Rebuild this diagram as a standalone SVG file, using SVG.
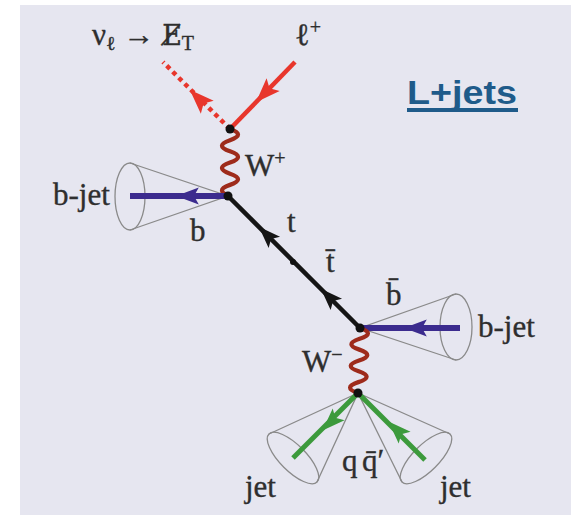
<svg xmlns="http://www.w3.org/2000/svg" xmlns:xlink="http://www.w3.org/1999/xlink" width="571" height="515" viewBox="0 0 571 515">
  <style>
    .lbl { font-family: "Liberation Serif", "DejaVu Serif", serif; font-size: 31px; fill: #2e2e2e; stroke: #2e2e2e; stroke-width: 0.35; }
    .sup { font-size: 20px; }
    .slash { font-family: "DejaVu Serif", "Liberation Serif", serif; font-size: 27px; }
    .cone { fill: none; stroke: #8a8a8a; stroke-width: 1.3; }
    .red { stroke: #e8362c; fill: none; stroke-width: 4.5; }
    .blue { stroke: #3b2b8e; fill: none; stroke-width: 6; }
    .green { stroke: #3c9a3c; fill: none; stroke-width: 5; }
    .top { stroke: #151515; fill: none; stroke-width: 4.5; }
    .boson { stroke: #9e2b1b; fill: none; stroke-width: 4.3; }
    .dot { fill: #111; }
    .title { font-family: "Liberation Sans", Arial, sans-serif; font-weight: bold; font-size: 34px; fill: #1f5b8a; }
  </style>
  <defs>
    <!-- stealth-style arrowhead pointing along +x -->
    <path id="ah" d="M10,0 L-9,-7 L-5,0 L-9,7 Z"/>
  </defs>

  <!-- panel background -->
  <rect x="20" y="5" width="551" height="510" fill="#e6e6f0"/>

  <!-- jet cones -->
  <g id="cone-b">
    <ellipse class="cone" cx="130" cy="196.5" rx="15" ry="33.5"/>
    <path class="cone" d="M130,163 L228,196 L130,230"/>
  </g>
  <g id="cone-bbar">
    <ellipse class="cone" cx="456" cy="327" rx="16" ry="33"/>
    <path class="cone" d="M456,294 L360,328 L456,360"/>
  </g>
  <g id="cone-q">
    <ellipse class="cone" cx="293" cy="458" rx="34" ry="13" transform="rotate(45 293 458)"/>
    <path class="cone" d="M269,434 L358,393 L317,482"/>
  </g>
  <g id="cone-qbar">
    <ellipse class="cone" cx="426" cy="458" rx="34" ry="13" transform="rotate(-45 426 458)"/>
    <path class="cone" d="M402,482 L358,393 L450,434"/>
  </g>

  <!-- propagators and external legs -->
  <g id="connectors">
    <line class="red" x1="230" y1="129" x2="163" y2="62" stroke-dasharray="4.5 4"/>
    <use xlink:href="#ah" fill="#e8362c" transform="translate(199,99) rotate(-135) scale(1.3)"/>
    <line class="red" x1="295" y1="62" x2="230" y2="129"/>
    <use xlink:href="#ah" fill="#e8362c" transform="translate(265,93) rotate(134) scale(1.3)"/>

    <path class="boson" d="M230,129 q16,5.58 0,11.17 t0,11.17 t0,11.17 t0,11.17 t0,11.17 t0,11.17"/>

    <line class="blue" x1="228" y1="196" x2="130" y2="196"/>
    <use xlink:href="#ah" fill="#3b2b8e" transform="translate(188,196) rotate(180) scale(1.2)"/>

    <line class="top" x1="228" y1="196" x2="360" y2="328"/>
    <use xlink:href="#ah" fill="#151515" transform="translate(267,235) rotate(-135) scale(1.15)"/>
    <use xlink:href="#ah" fill="#151515" transform="translate(329,297) rotate(-135) scale(1.15)"/>

    <line class="blue" x1="360" y1="328" x2="460" y2="328"/>
    <use xlink:href="#ah" fill="#3b2b8e" transform="translate(416,328) rotate(180) scale(1.2)"/>

    <path class="boson" d="M360,328 q16,5.42 -0.33,10.83 t-0.33,10.83 t-0.33,10.83 t-0.33,10.83 t-0.33,10.83 t-0.33,10.83"/>

    <line class="green" x1="358" y1="393" x2="293" y2="458"/>
    <use xlink:href="#ah" fill="#3c9a3c" transform="translate(331,422) rotate(135) scale(1.2)"/>
    <line class="green" x1="358" y1="393" x2="425" y2="460"/>
    <use xlink:href="#ah" fill="#3c9a3c" transform="translate(397,430) rotate(-135) scale(1.2)"/>

    <circle class="dot" cx="230" cy="129" r="4.5"/>
    <circle class="dot" cx="228" cy="196" r="4.5"/>
    <circle class="dot" cx="293" cy="262" r="3"/>
    <circle class="dot" cx="360" cy="328" r="4.5"/>
    <circle class="dot" cx="358" cy="393" r="4.5"/>
  </g>

  <!-- labels -->
  <g id="label-nu">
    <text class="lbl" x="92" y="45">ν<tspan class="sup" dy="5">ℓ</tspan><tspan dy="-5"> → </tspan><tspan class="slash">E̸</tspan><tspan class="sup" dy="5">T</tspan></text>
  </g>
  <g id="label-lepton">
    <text class="lbl" x="295" y="45">ℓ<tspan class="sup" dy="-11">+</tspan></text>
  </g>
  <g id="label-wplus">
    <text class="lbl" x="245" y="176">W<tspan class="sup" dy="-11">+</tspan></text>
  </g>
  <g id="label-bjet-left"><text class="lbl" x="53" y="205">b-jet</text></g>
  <g id="label-b"><text class="lbl" x="190" y="241">b</text></g>
  <g id="label-t"><text class="lbl" x="287" y="232">t</text></g>
  <g id="label-tbar"><text class="lbl" x="326" y="272">t̄</text></g>
  <g id="label-bbar"><text class="lbl" x="386" y="305">b̄</text></g>
  <g id="label-bjet-right"><text class="lbl" x="478" y="337">b-jet</text></g>
  <g id="label-wminus">
    <text class="lbl" x="302" y="372">W<tspan class="sup" dy="-11">−</tspan></text>
  </g>
  <g id="label-q"><text class="lbl" x="342" y="471">q</text></g>
  <g id="label-qbar"><text class="lbl" x="362" y="471">q̄′</text></g>
  <g id="label-jet-left"><text class="lbl" x="245" y="497">jet</text></g>
  <g id="label-jet-right"><text class="lbl" x="440" y="497">jet</text></g>

  <g id="title">
    <text class="title" x="407" y="104" textLength="110" lengthAdjust="spacingAndGlyphs">L+jets</text>
    <rect x="407" y="108" width="111" height="4" fill="#1f5b8a"/>
  </g>
</svg>
